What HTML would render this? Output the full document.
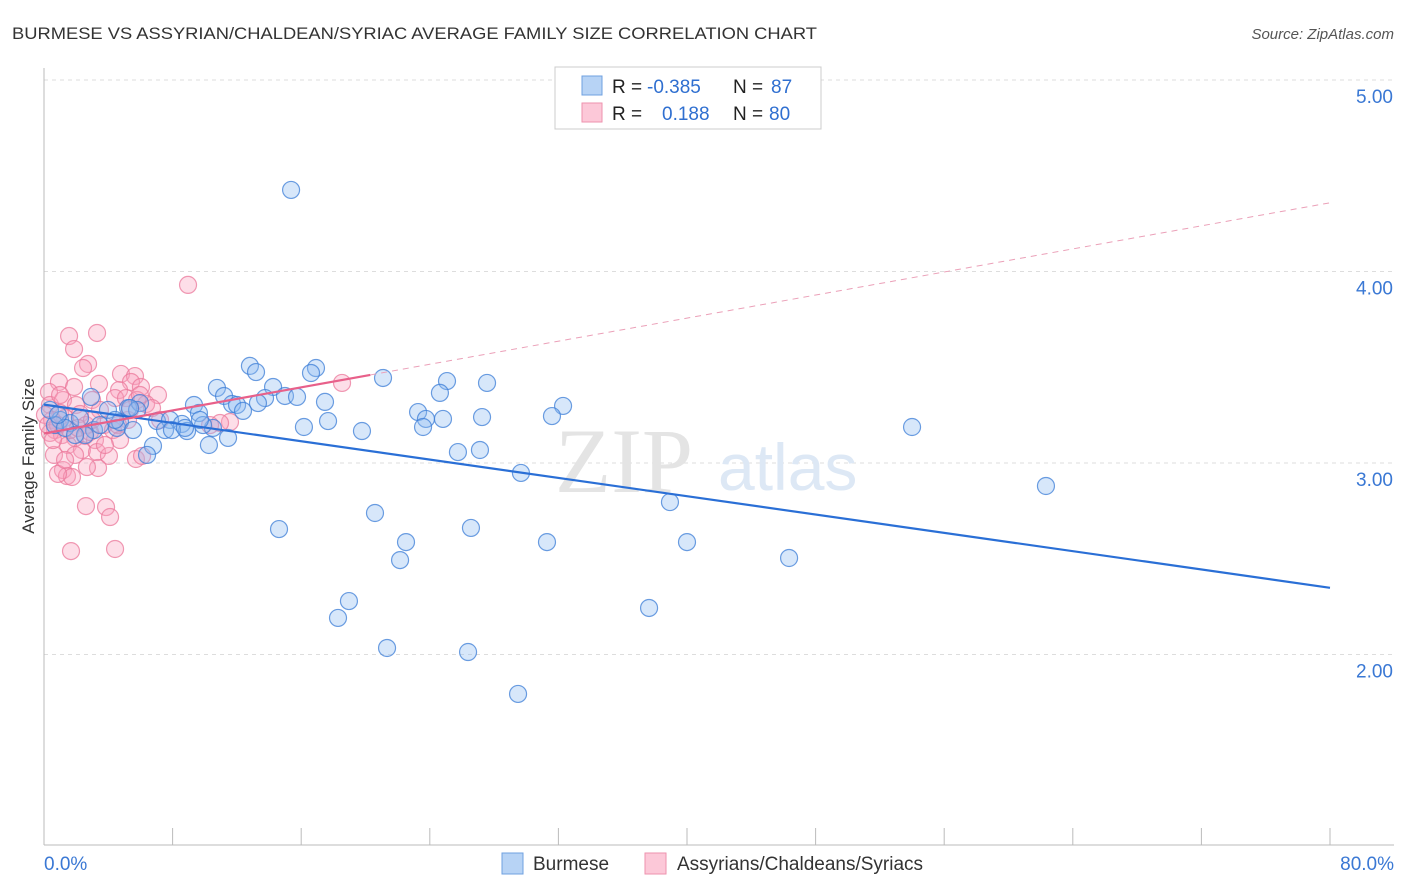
<!DOCTYPE html>
<html><head><meta charset="utf-8"><style>
body{margin:0;background:#fff;font-family:"Liberation Sans",sans-serif;}
svg{display:block}
</style></head><body>
<svg id="chart" width="1406" height="892">
<text x="12" y="39" font-size="17" fill="#333" textLength="805" lengthAdjust="spacingAndGlyphs">BURMESE VS ASSYRIAN/CHALDEAN/SYRIAC AVERAGE FAMILY SIZE CORRELATION CHART</text>
<text x="1394" y="39" font-size="15" fill="#555" font-style="italic" text-anchor="end">Source: ZipAtlas.com</text>
<g id="grid"></g>
<g id="axes"></g>
<text x="555" y="492" font-size="92" fill="#e4e4e4" font-family="Liberation Serif,serif">ZIP</text>
<text x="718" y="490" font-size="66" fill="#dde8f5">atlas</text>
<g id="pts"></g>
<g id="lines"></g>
<text x="34" y="456" font-size="17" fill="#333" transform="rotate(-90 34 456)" text-anchor="middle">Average Family Size</text>
<g>
<rect x="555" y="67" width="266" height="62" fill="#fff" stroke="#ccc"/>
<rect x="582" y="76" width="20" height="19" fill="#b7d3f5" stroke="#6fa0e0"/>
<rect x="582" y="103" width="20" height="19" fill="#fcc8d8" stroke="#ee92ae"/>
<text font-size="19" fill="#222"><tspan x="612" y="93">R = </tspan><tspan x="647" fill="#2f6fd0">-0.385</tspan><tspan x="733">N = </tspan><tspan x="771" fill="#2f6fd0">87</tspan></text>
<text font-size="19" fill="#222"><tspan x="612" y="120">R = </tspan><tspan x="662" fill="#2f6fd0">0.188</tspan><tspan x="733">N = </tspan><tspan x="769" fill="#2f6fd0">80</tspan></text>
</g>
<g>
<rect x="502" y="853" width="21" height="21" fill="#b7d3f5" stroke="#6fa0e0"/>
<text x="533" y="870" font-size="19" fill="#333">Burmese</text>
<rect x="645" y="853" width="21" height="21" fill="#fcc8d8" stroke="#ee92ae"/>
<text x="677" y="870" font-size="19" fill="#333">Assyrians/Chaldeans/Syriacs</text>
</g>
</svg>
<script>
const yTicks=[2,3,4,5];
const yTickLabels=["2.00","3.00","4.00","5.00"];
const xTickLabels=["0.0%","80.0%"];
const bluePx=[[291,190],[250,366],[256,372],[316,368],[311,373],[383,378],[447,381],[487,383],[217,388],[273,387],[224,396],[265,398],[285,396],[297,397],[258,403],[232,404],[237,405],[325,402],[440,393],[563,406],[194,405],[199,413],[243,411],[418,412],[552,416],[482,417],[443,419],[426,419],[423,427],[328,421],[304,427],[362,431],[157,421],[170,420],[182,424],[187,431],[165,430],[172,430],[213,428],[203,425],[228,438],[209,445],[153,446],[147,455],[458,452],[480,450],[117,428],[120,422],[128,408],[91,397],[108,410],[94,430],[85,435],[60,420],[70,423],[55,425],[50,410],[140,403],[137,410],[912,427],[521,473],[1046,486],[670,502],[375,513],[279,529],[471,528],[406,542],[547,542],[687,542],[400,560],[789,558],[349,601],[649,608],[338,618],[387,648],[468,652],[518,694],[130,408],[100,425],[65,428],[75,435],[80,418],[58,415],[133,430],[200,420],[185,428],[115,420]];
const pinkPx=[[188,285],[97,333],[69,336],[74,349],[88,364],[83,368],[59,382],[74,387],[99,384],[121,374],[135,376],[131,382],[141,387],[158,395],[119,390],[49,392],[50,405],[63,400],[76,405],[92,400],[115,398],[126,398],[137,400],[146,404],[152,408],[60,413],[65,418],[80,414],[86,425],[104,425],[113,430],[128,420],[118,425],[52,420],[55,430],[62,435],[50,433],[75,438],[85,436],[95,440],[68,445],[82,450],[97,452],[109,456],[54,455],[63,470],[67,476],[72,477],[98,468],[87,467],[136,459],[142,456],[58,474],[86,506],[106,507],[110,517],[71,551],[115,549],[342,383],[230,422],[220,423],[210,425],[160,420],[53,440],[58,425],[70,430],[78,428],[90,432],[45,415],[48,425],[100,410],[130,410],[60,395],[120,440],[105,445],[140,395],[75,455],[65,460],[92,420]];
const X0=44,X1=1330,Y5=80,PU=191.5;
const toX=p=>(p-X0)/(X1-X0)*80, toY=p=>5-(p-Y5)/PU;
const blueX=bluePx.map(p=>+toX(p[0]).toFixed(2)), blueY=bluePx.map(p=>+toY(p[1]).toFixed(3));
const pinkX=pinkPx.map(p=>+toX(p[0]).toFixed(2)), pinkY=pinkPx.map(p=>+toY(p[1]).toFixed(3));
const xs=v=>X0+v/80*(X1-X0), ys=v=>Y5+(5-v)*PU;
const NS="http://www.w3.org/2000/svg";
function mk(t,a,par){const e=document.createElementNS(NS,t);for(const k in a)e.setAttribute(k,a[k]);document.getElementById(par).appendChild(e);return e;}
yTicks.forEach((t,i)=>{
 const l=mk('line',{x1:44,x2:1394,y1:ys(t),y2:ys(t),stroke:'#ddd','stroke-dasharray':'4,4'},'grid');
 
 
 const tx=mk('text',{x:1393,y:ys(t)+23,'font-size':19,fill:'#3a78d4','text-anchor':'end'},'axes');
 tx.textContent=yTickLabels[i];
 
 
});
const ax=mk('line',{x1:44,x2:44,y1:68,y2:845,stroke:'#bbb'},'axes');


const bx=mk('line',{x1:44,x2:1394,y1:845,y2:845,stroke:'#bbb'},'axes');


for(let i=0;i<=10;i++){const x=X0+i*(X1-X0)/10;
 const t=mk('line',{x1:x,x2:x,y1:828,y2:845,stroke:'#bbb'},'axes');
 
 }
[[0,'start',44],[80,'end',1394]].forEach((d,i)=>{const t=mk('text',{x:d[2],y:870,'font-size':19,fill:'#3a78d4','text-anchor':d[1]},'axes');t.textContent=xTickLabels[i];
 
 });
pinkX.forEach((x,i)=>{const c=mk('circle',{cx:xs(x),cy:ys(pinkY[i]),r:8.5,fill:'rgba(248,160,190,0.35)',stroke:'rgba(235,120,155,0.75)','stroke-width':1.2},'pts');
 
 });
blueX.forEach((x,i)=>{const c=mk('circle',{cx:xs(x),cy:ys(blueY[i]),r:8.5,fill:'rgba(140,185,240,0.35)',stroke:'rgba(60,125,215,0.75)','stroke-width':1.2},'pts');
 
 });
function fit(X,Y){const n=X.length,mx=X.reduce((a,b)=>a+b)/n,my=Y.reduce((a,b)=>a+b)/n;let sxy=0,sxx=0;X.forEach((x,i)=>{sxy+=(x-mx)*(Y[i]-my);sxx+=(x-mx)**2});const b=sxy/sxx;return [my-b*mx,b];}
const bf=fit(blueX,blueY), pf=fit(pinkX,pinkY);
const bl=mk('line',{x1:xs(0),y1:ys(bf[0]),x2:xs(80),y2:ys(bf[0]+bf[1]*80),stroke:'#2a6fd6','stroke-width':2.2},'lines');


const pl=mk('line',{x1:xs(0),y1:ys(pf[0]),x2:xs(20.3),y2:ys(pf[0]+pf[1]*20.3),stroke:'#e8608a','stroke-width':2.2},'lines');


const pd=mk('line',{x1:xs(20.3),y1:ys(pf[0]+pf[1]*20.3),x2:xs(80),y2:ys(pf[0]+pf[1]*80),stroke:'#eba0b8','stroke-width':1,'stroke-dasharray':'6,5'},'lines');


</script>
</body></html>
